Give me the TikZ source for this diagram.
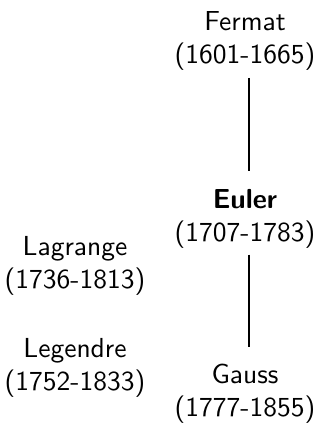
\documentclass[tikz,border=0pt]{standalone}
\begin{document}
\begin{tikzpicture}[x=0.3636pt, y=-0.3636pt,
  person/.style={font=\sffamily, align=center, inner sep=2pt},
  link/.style={line width=1pt}]
\useasboundingbox (0,0) rectangle (323,425);
% mathematicians with their life spans
\node[person] (fermat)   at (245,41)  {Fermat\\(1601-1665)};
\node[person] (euler)    at (245,219) {\textbf{Euler}\\(1707-1783)};
\node[person] (gauss)    at (245,394) {Gauss\\(1777-1855)};
\node[person] (lagrange) at (75,266)  {Lagrange\\(1736-1813)};
\node[person] (legendre) at (75,368)  {Legendre\\(1752-1833)};
% lineage links
\draw[link, shorten <=0.5pt, shorten >=4.7pt]
  ([xshift=1.45pt]fermat.south) -- ([xshift=1.45pt]euler.north);
\draw[link, shorten <=0pt, shorten >=4pt]
  ([xshift=1.45pt]euler.south) -- ([xshift=1.45pt]gauss.north);
\end{tikzpicture}
\end{document}
